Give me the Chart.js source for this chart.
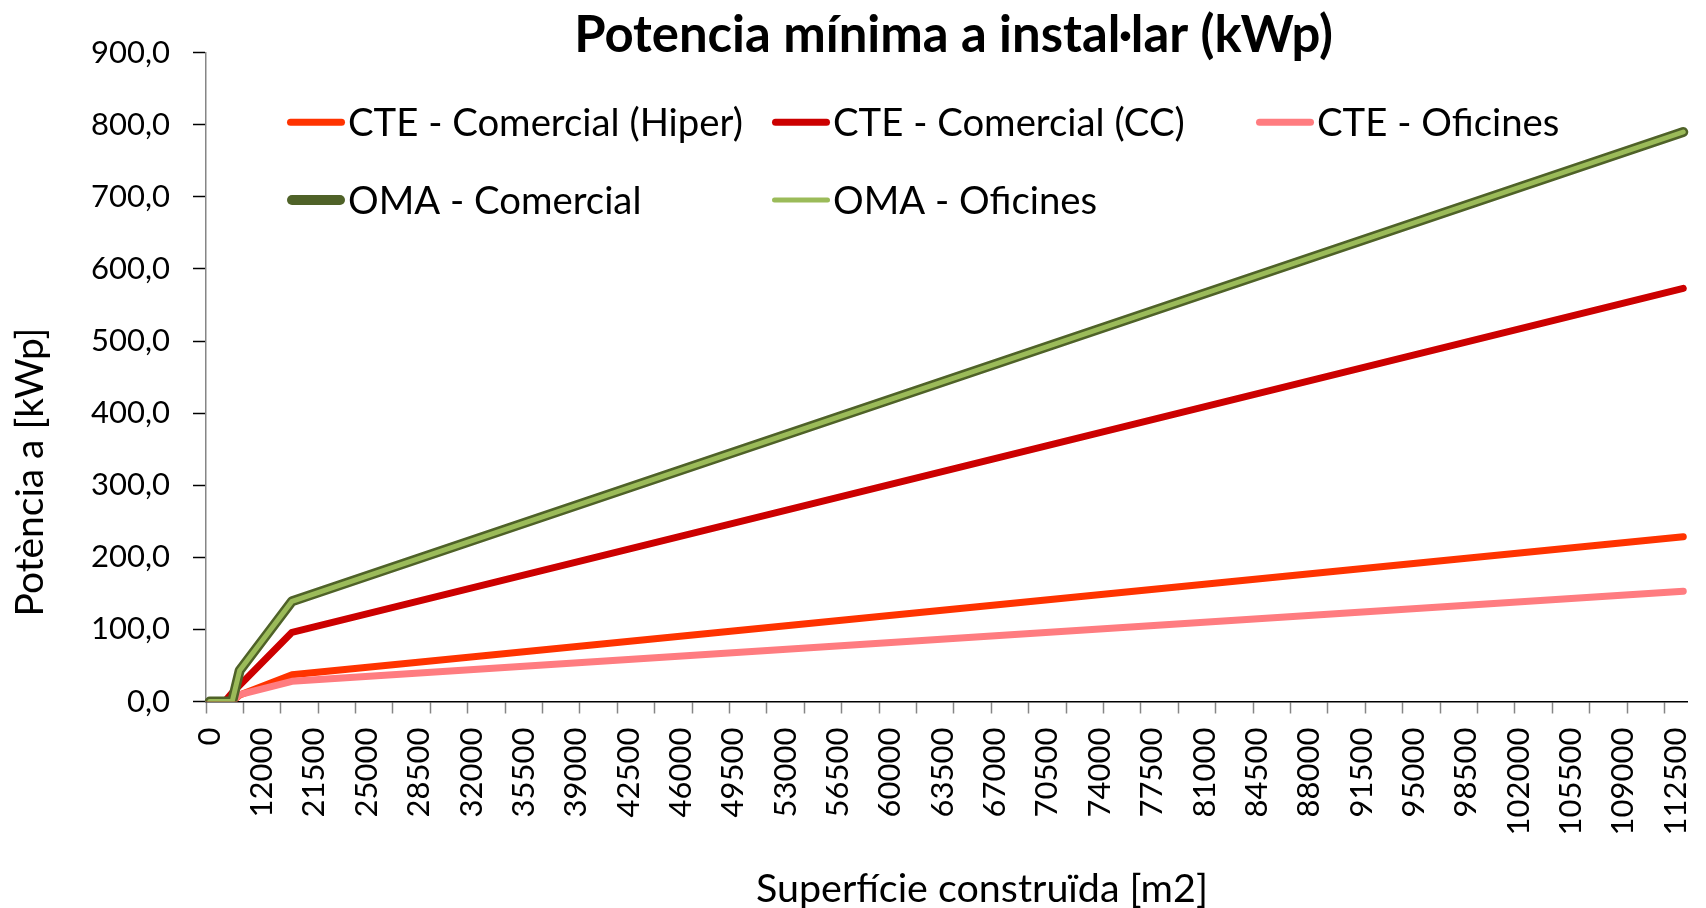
<!DOCTYPE html>
<html>
<head>
<meta charset="utf-8">
<script src="https://cdn.jsdelivr.net/npm/chart.js@4.4.1/dist/chart.umd.min.js"></script>
<style>
  html, body { margin: 0; padding: 0; background: #ffffff; }
  #wrap { width: 1706px; height: 908px; position: relative; }
</style>
</head>
<body>
<div id="wrap"><canvas id="c" width="1706" height="908"></canvas></div>
<script>
// ---- Data ----
const chartTitle = 'Potencia mínima a instal·lar (kWp)';
const xTitle = 'Superfície construïda [m2]';
const yTitle = 'Potència a [kWp]';

// Categories of the x axis (m2)
const categories = [
  0,1000,2000,4000,6000,8000,10000,12000,14000,16000,18000,20000,
  20500,21000,21500,22000,22500,23000,23500,24000,24500,25000,
  25500,26000,26500,27000,27500,28000,28500,29000,29500,30000,
  30500,31000,31500,32000,32500,33000,33500,34000,34500,35000,
  35500,36000,36500,37000,37500,38000,38500,39000,39500,40000,
  40500,41000,41500,42000,42500,43000,43500,44000,44500,45000,
  45500,46000,46500,47000,47500,48000,48500,49000,49500,50000,
  50500,51000,51500,52000,52500,53000,53500,54000,54500,55000,
  55500,56000,56500,57000,57500,58000,58500,59000,59500,60000,
  60500,61000,61500,62000,62500,63000,63500,64000,64500,65000,
  65500,66000,66500,67000,67500,68000,68500,69000,69500,70000,
  70500,71000,71500,72000,72500,73000,73500,74000,74500,75000,
  75500,76000,76500,77000,77500,78000,78500,79000,79500,80000,
  80500,81000,81500,82000,82500,83000,83500,84000,84500,85000,
  85500,86000,86500,87000,87500,88000,88500,89000,89500,90000,
  90500,91000,91500,92000,92500,93000,93500,94000,94500,95000,
  95500,96000,96500,97000,97500,98000,98500,99000,99500,100000,
  100500,101000,101500,102000,102500,103000,103500,104000,104500,105000,
  105500,106000,106500,107000,107500,108000,108500,109000,109500,110000,
  110500,111000,111500,112000,112500,113000
];

// Tick labels shown on the x axis
const xTickLabels = ['0','12000','21500','25000','28500','32000','35500','39000','42500',
  '46000','49500','53000','56500','60000','63500','67000','70500','74000','77500','81000',
  '84500','88000','91500','95000','98500','102000','105500','109000','112500'];

// Series: values read at the break points of each line (m2 -> kWp)
const hiperAt   = [0, 4000, 6000, 20000, 113000];
const hiperKWp  = [0, 0, 8.9, 37, 228.6];
const ccAt      = [0, 2000, 4000, 20000, 113000];
const ccKWp     = [0, 0, 12, 96, 573];
const oficAt    = [0, 4000, 6000, 20000, 113000];
const oficKWp   = [0, 0, 9.6, 28, 153];
const omaComAt  = [0, 4000, 6000, 20000, 113000];
const omaComKWp = [0, 0, 43, 139, 790];
const omaOfAt   = [0, 4000, 6000, 20000, 113000];
const omaOfKWp  = [0, 0, 43, 139, 790];

const seriesNames = ['CTE - Comercial (Hiper)', 'CTE - Comercial (CC)', 'CTE - Oficines',
                     'OMA - Comercial', 'OMA - Oficines'];

// y tick labels
const yTicks = [0, 100, 200, 300, 400, 500, 600, 700, 800, 900];

function toSeries(at, vals) {
  const d = categories.map(() => null);
  at.forEach((s, k) => { d[categories.indexOf(s)] = vals[k]; });
  return d;
}

const FONT = 'Lato';

const styles = [
  { color: '#FF3300', width: 7, order: 5 },
  { color: '#CC0000', width: 7, order: 4 },
  { color: '#FF7C80', width: 7, order: 3 },
  { color: '#4F6228', width: 10, order: 2 },
  { color: '#9BBB59', width: 5, order: 1 }
];
const seriesData = [
  toSeries(hiperAt, hiperKWp),
  toSeries(ccAt, ccKWp),
  toSeries(oficAt, oficKWp),
  toSeries(omaComAt, omaComKWp),
  toSeries(omaOfAt, omaOfKWp)
];

const datasets = seriesNames.map((name, k) => ({
  label: name,
  data: seriesData[k],
  borderColor: styles[k].color,
  backgroundColor: styles[k].color,
  borderWidth: styles[k].width,
  order: styles[k].order,
  pointRadius: 0,
  pointHoverRadius: 0,
  spanGaps: true,
  tension: 0,
  fill: false,
  borderCapStyle: 'round',
  borderJoinStyle: 'round'
}));

function fitSize(ctx, text, weight, targetW) {
  ctx.font = weight + ' 100px ' + FONT;
  const w = ctx.measureText(text).width;
  return 100 * targetW / w;
}

const textPlugin = {
  id: 'texts',
  afterDraw(chart) {
    const ctx = chart.ctx;
    ctx.save();
    ctx.fillStyle = '#000';
    ctx.textBaseline = 'alphabetic';

    // Title
    let fs = fitSize(ctx, chartTitle, 'bold', 759);
    ctx.font = 'bold ' + fs + 'px ' + FONT;
    let cap = ctx.measureText('P').actualBoundingBoxAscent;
    ctx.textAlign = 'center';
    ctx.fillText(chartTitle, 953.5, 33 + cap / 2);

    // X axis title
    fs = fitSize(ctx, xTitle, 'normal', 452);
    ctx.font = fs + 'px ' + FONT;
    cap = ctx.measureText('S').actualBoundingBoxAscent;
    ctx.fillText(xTitle, 982, 888 + cap / 2);

    // Y axis title
    fs = fitSize(ctx, yTitle, 'normal', 289);
    ctx.font = fs + 'px ' + FONT;
    cap = ctx.measureText('P').actualBoundingBoxAscent;
    ctx.save();
    ctx.translate(28.5 + cap / 2, 472);
    ctx.rotate(-Math.PI / 2);
    ctx.fillText(yTitle, 0, 0);
    ctx.restore();

    // Legend (3 columns grid)
    const colX = [287, 772, 1256];
    const rowY = [122.3, 200];
    const lfs = fitSize(ctx, seriesNames[0], 'normal', 395);
    ctx.font = lfs + 'px ' + FONT;
    cap = ctx.measureText('C').actualBoundingBoxAscent;
    ctx.textAlign = 'left';
    chart.data.datasets.forEach((ds, k) => {
      const lx = colX[k % 3];
      const ly = rowY[Math.floor(k / 3)];
      const w = ds.borderWidth;
      ctx.beginPath();
      ctx.lineCap = 'round';
      ctx.strokeStyle = ds.borderColor;
      ctx.lineWidth = w;
      ctx.moveTo(lx + w / 2, ly);
      ctx.lineTo(lx + 58 - w / 2, ly);
      ctx.stroke();
      ctx.fillStyle = '#000';
      ctx.fillText(ds.label, lx + 61, ly + cap / 2);
    });
    ctx.restore();
  }
};

new Chart(document.getElementById('c'), {
  type: 'line',
  data: { labels: categories.map(String), datasets: datasets },
  options: {
    responsive: false,
    animation: false,
    devicePixelRatio: 1,
    layout: { padding: { top: 52.7, right: 19, bottom: 0, left: 0 } },
    plugins: { legend: { display: false }, title: { display: false }, tooltip: { enabled: false } },
    scales: {
      x: {
        type: 'category',
        offset: true,
        border: { display: true, color: '#000000', width: 1.5 },
        grid: {
          display: true,
          drawOnChartArea: false,
          drawTicks: true,
          offset: true,
          tickLength: 12,
          tickWidth: 1.5,
          color: 'rgba(0,0,0,0)',
          tickColor: (c) => (c.index % 5 === 0 ? '#868686' : 'rgba(0,0,0,0)')
        },
        ticks: {
          autoSkip: false,
          maxRotation: 90,
          minRotation: 90,
          padding: 14,
          color: '#000',
          font: { family: FONT, size: 31 },
          callback: (value, index) => {
            const c = String(categories[index]);
            return xTickLabels.includes(c) ? c : '';
          }
        },
        afterFit: (s) => { s.height = 206.5; s.paddingLeft = 0; s.paddingRight = 0; }
      },
      y: {
        type: 'linear',
        min: yTicks[0],
        max: yTicks[yTicks.length - 1],
        border: { display: true, color: '#868686', width: 1.5 },
        grid: { drawOnChartArea: false, tickLength: 13, tickWidth: 1.5, tickColor: '#000000' },
        ticks: {
          stepSize: 100,
          padding: 23,
          color: '#000',
          font: { family: FONT, size: 31 },
          callback: (v) => v.toFixed(1).replace('.', ',')
        },
        afterBuildTicks: (axis) => { axis.ticks = yTicks.map(v => ({ value: v })); },
        afterFit: (s) => { s.width = 206; s.paddingTop = 0; s.paddingBottom = 0; }
      }
    }
  },
  plugins: [textPlugin]
});
</script>
</body>
</html>
